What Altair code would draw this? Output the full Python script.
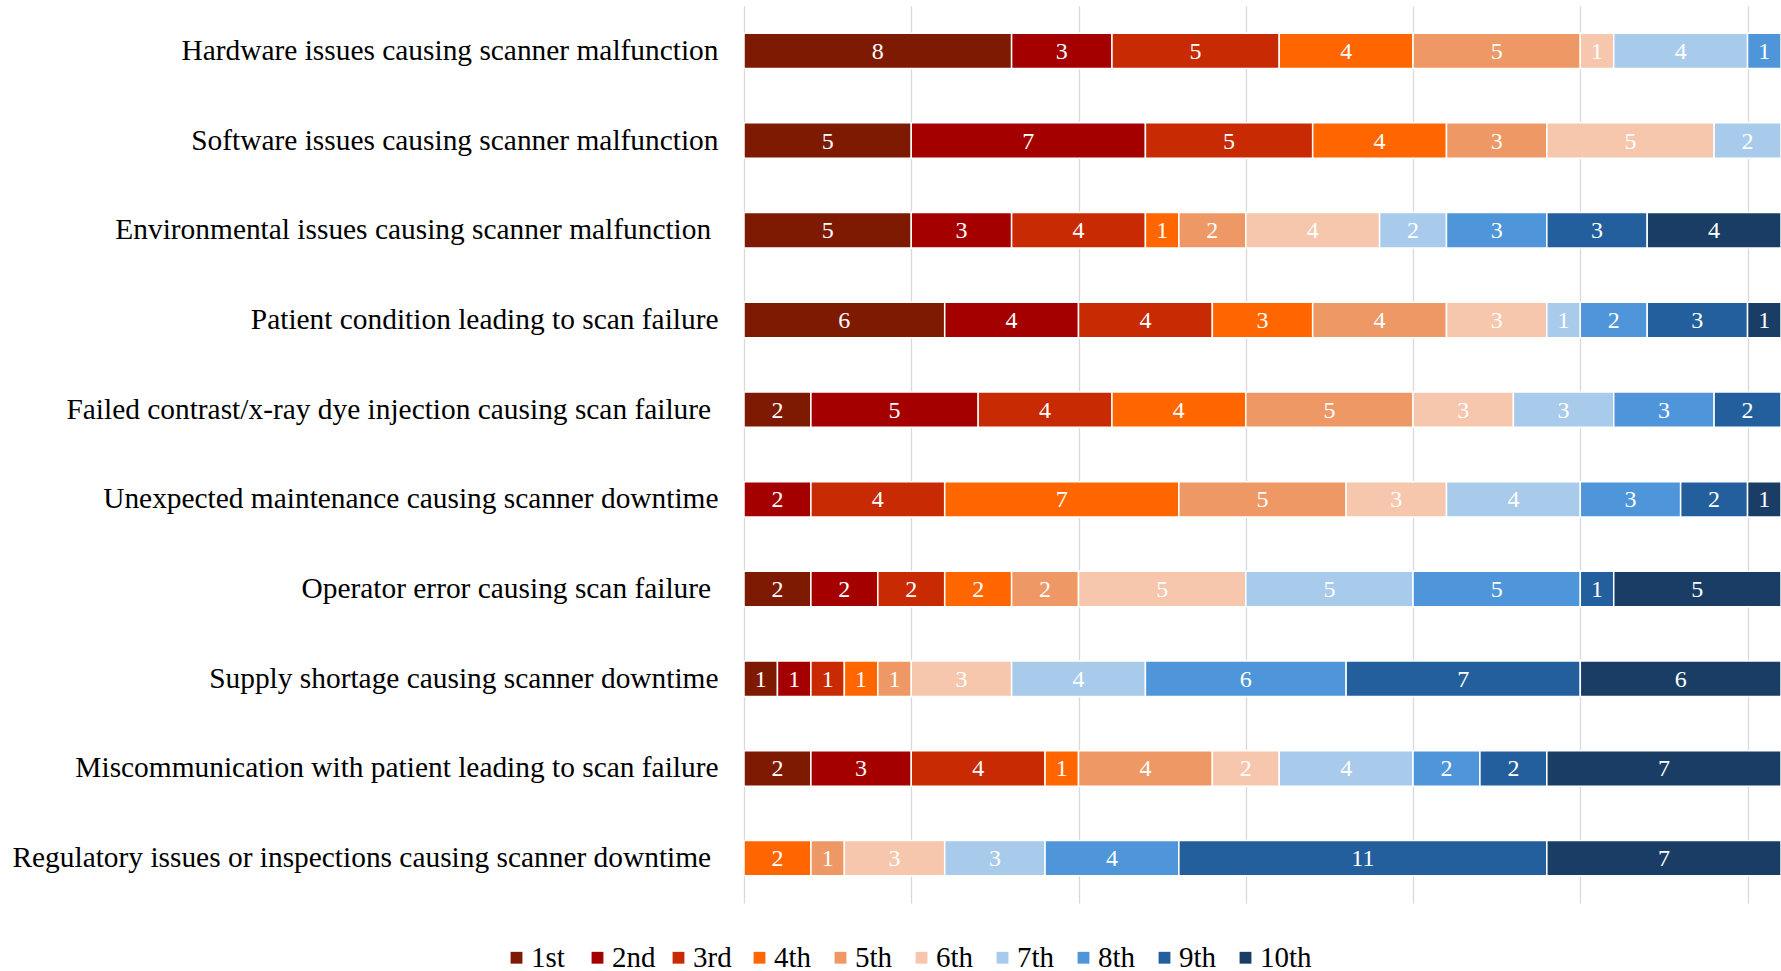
import altair as alt
import pandas as pd

# Survey: how each downtime / failure cause was ranked (1st = most important).
# Some labels carry a trailing space; the zero-width space after it keeps
# Vega from trimming that space away.
causes = [
    "Hardware issues causing scanner malfunction",
    "Software issues causing scanner malfunction",
    "Environmental issues causing scanner malfunction\u00a0\u200b",
    "Patient condition leading to scan failure",
    "Failed contrast/x-ray dye injection causing scan failure\u00a0\u200b",
    "Unexpected maintenance causing scanner downtime",
    "Operator error causing scan failure\u00a0\u200b",
    "Supply shortage causing scanner downtime",
    "Miscommunication with patient leading to scan failure",
    "Regulatory issues or inspections causing scanner downtime\u00a0\u200b",
]

ranks = ["1st", "2nd", "3rd", "4th", "5th", "6th", "7th", "8th", "9th", "10th"]

# number of respondents giving each rank, per cause (1st .. 10th)
hardware = [8, 3, 5, 4, 5, 1, 4, 1, 0, 0]
software = [5, 7, 5, 4, 3, 5, 2, 0, 0, 0]
environmental = [5, 3, 4, 1, 2, 4, 2, 3, 3, 4]
patient = [6, 4, 4, 3, 4, 3, 1, 2, 3, 1]
contrast = [2, 5, 4, 4, 5, 3, 3, 3, 2, 0]
maintenance = [0, 2, 4, 7, 5, 3, 4, 3, 2, 1]
operator = [2, 2, 2, 2, 2, 5, 5, 5, 1, 5]
supply = [1, 1, 1, 1, 1, 3, 4, 6, 7, 6]
miscommunication = [2, 3, 4, 1, 4, 2, 4, 2, 2, 7]
regulatory = [0, 0, 0, 2, 1, 3, 3, 4, 11, 7]

counts = [hardware, software, environmental, patient, contrast,
          maintenance, operator, supply, miscommunication, regulatory]

rank_colors = ["#7e1a02", "#a50000", "#c82b04", "#ff6600", "#ee9866",
               "#f6c6ad", "#a8caeb", "#4e96d9", "#235f9c", "#1a3d66"]

rows = []
for cause, row in zip(causes, counts):
    for i, (rank, n) in enumerate(zip(ranks, row)):
        if n > 0:
            rows.append({"cause": cause, "rank": rank, "order": i, "n": n})
df = pd.DataFrame(rows)

FONT = "Liberation Serif"

base = alt.Chart(df).transform_stack(
    stack="n",
    as_=["x0", "x1"],
    groupby=["cause"],
    sort=[alt.SortField("order", order="ascending")],
).transform_calculate(
    xm="(datum.x0 + datum.x1) / 2"
)

y_enc = alt.Y(
    "cause:N",
    sort=causes,
    title=None,
    scale=alt.Scale(paddingInner=0.605, paddingOuter=0.3025),
    axis=alt.Axis(
        domain=False,
        ticks=False,
        grid=False,
        labelFont=FONT,
        labelFontSize=29.4,
        labelColor="#000000",
        labelPadding=26,
        labelLimit=800,
    ),
)

x_scale = alt.Scale(domain=[0, 31], nice=False, zero=True)

bars = base.mark_bar(stroke="white", strokeWidth=1.5).encode(
    x=alt.X(
        "x0:Q",
        scale=x_scale,
        title=None,
        axis=alt.Axis(
            values=[0, 5, 10, 15, 20, 25, 30],
            grid=True,
            gridColor="#d9d9d9",
            gridWidth=1.3,
            labels=False,
            ticks=False,
            domain=False,
        ),
    ),
    x2="x1:Q",
    y=y_enc,
    color=alt.Color(
        "rank:N",
        sort=ranks,
        scale=alt.Scale(domain=ranks, range=rank_colors),
        title=None,
        legend=alt.Legend(
            orient="none",
            direction="horizontal",
            legendX=-242,
            legendY=937,
            columns=10,
            gridAlign="all",
            symbolType="square",
            symbolSize=140,
            symbolStrokeWidth=0,
            labelFont=FONT,
            labelFontSize=29,
            labelColor="#000000",
            labelOffset=0,
            columnPadding=0,
            padding=0,
        ),
    ),
)

labels = base.mark_text(
    color="white", font=FONT, fontSize=24, baseline="middle", align="center", dy=1
).encode(
    x=alt.X("xm:Q", scale=x_scale),
    y=alt.Y("cause:N", sort=causes),
    text="n:Q",
)

chart = (
    alt.layer(bars, labels)
    .properties(
        width=1037,
        height=897,
        autosize="none",
        padding={"left": 744, "top": 6, "right": 0, "bottom": 68},
    )
    .configure(background="white", font=FONT)
    .configure_view(stroke=None)
)

chart.save("out.html", embed_options={"renderer": "svg", "actions": False})
